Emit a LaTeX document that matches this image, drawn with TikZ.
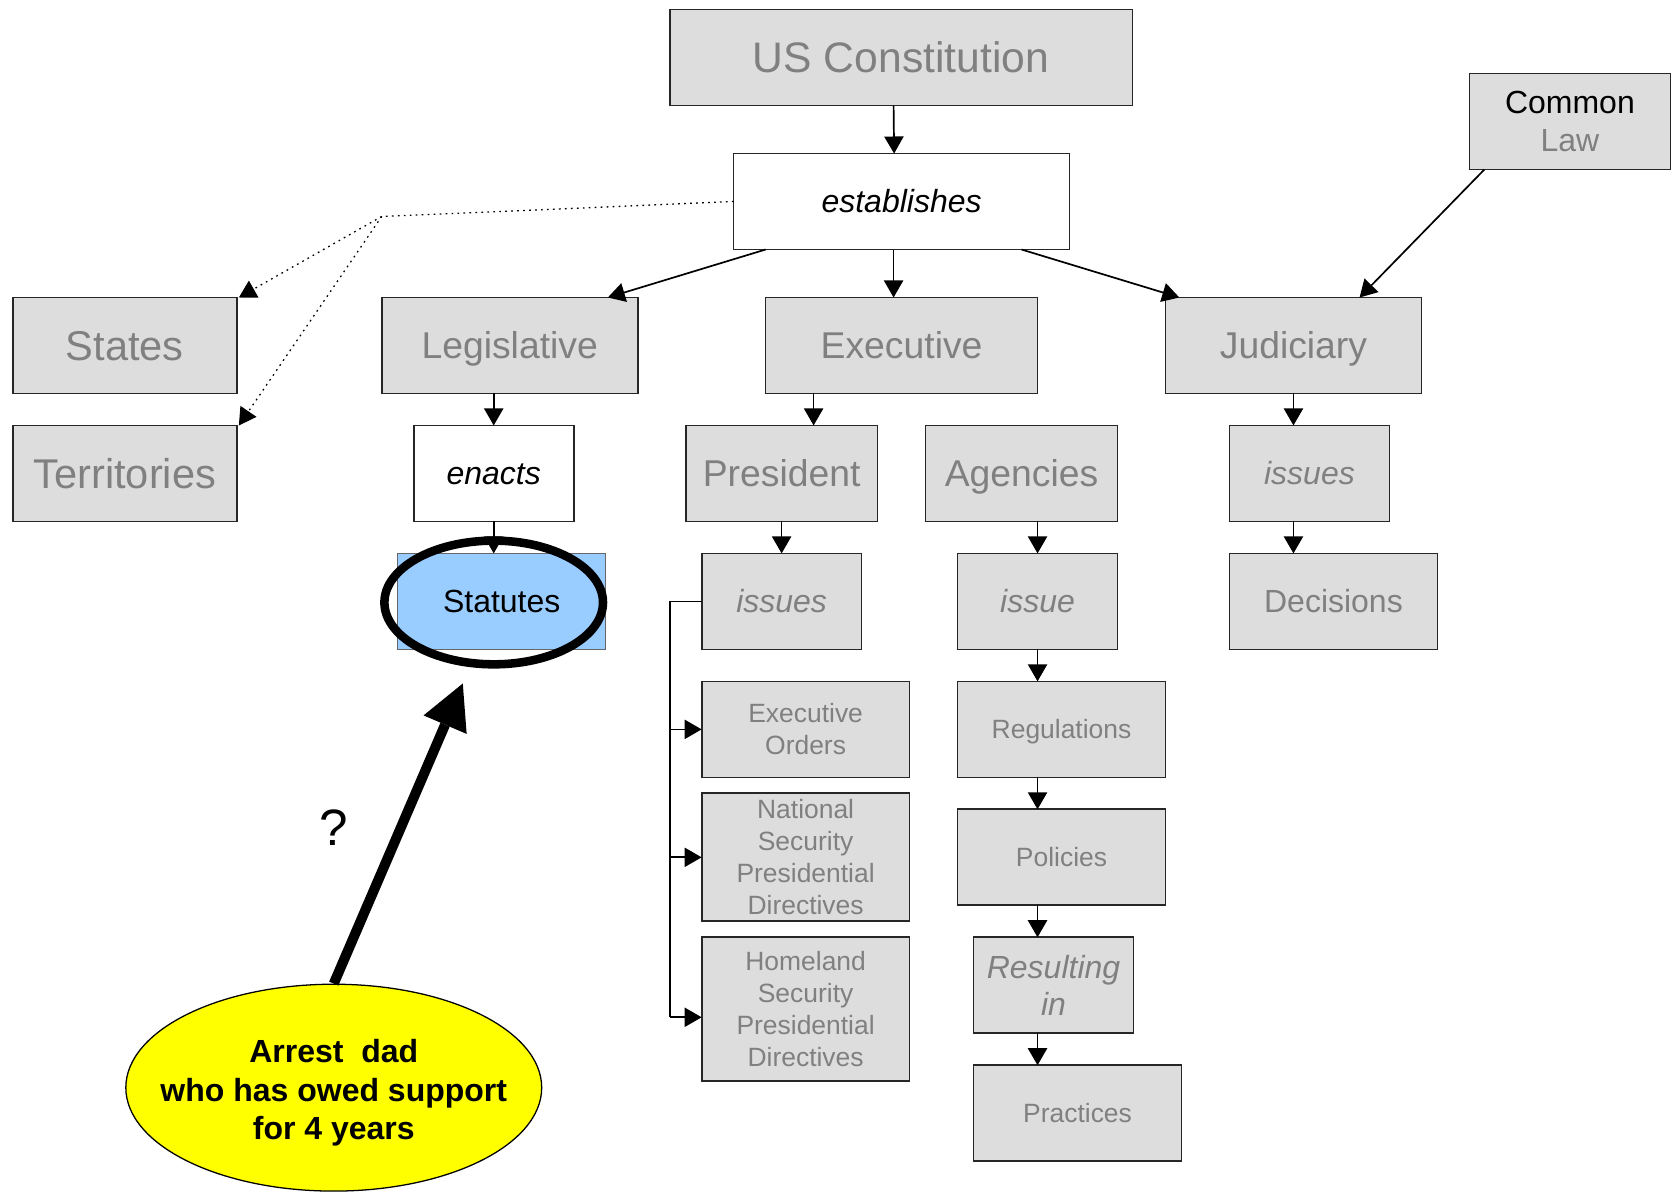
\documentclass[tikz,border=0pt]{standalone}
\usepackage{fontspec}
\setmainfont{Liberation Sans}
\usetikzlibrary{arrows.meta,shapes.geometric}
\definecolor{boxgray}{HTML}{DDDDDD}
\definecolor{txtgray}{HTML}{808080}
\definecolor{statblue}{HTML}{99CCFF}
\definecolor{noteyellow}{HTML}{FFFF00}

\begin{document}
\begin{tikzpicture}[x=0.5pt,y=-0.5pt,
  gbox/.style={draw=black!85,line width=0.8pt,fill=boxgray,text=txtgray,
    inner sep=0pt,outer sep=0pt,align=center,minimum height=45pt},
  wbox/.style={gbox,fill=white,text=black},
  % single-line styles centre the capitals in the box
  fhuge/.style={font=\fontsize{20pt}{24pt}\selectfont,text height=14.3pt,text depth=0pt},
  fstate/.style={font=\fontsize{19.5pt}{23pt}\selectfont,text height=14pt,text depth=0pt},
  fbig/.style={font=\fontsize{17.5pt}{21pt}\selectfont,text height=12.5pt,text depth=0pt},
  fmid/.style={font=\fontsize{15pt}{17.5pt}\selectfont},
  fmidone/.style={fmid,text height=10.7pt,text depth=0pt},
  fmidit/.style={font=\fontsize{15pt}{17.5pt}\selectfont\itshape},
  fmiditone/.style={fmidit,text height=10.7pt,text depth=0pt},
  fsmall/.style={font=\fontsize{12.4pt}{15pt}\selectfont},
  fsmallone/.style={fsmall,text height=8.9pt,text depth=0pt},
  arr/.style={-{Triangle[length=8pt,width=9pt]},line width=0.8pt},
  dotarr/.style={arr,dotted,line width=0.6pt},
]
\useasboundingbox (0,0) rectangle (1568,1117);

% top of the hierarchy
\node[gbox,fhuge,minimum width=217pt] (const) at (845,54) {US Constitution};
\node[wbox,fmiditone,minimum width=157.5pt] (estab) at (845.5,189) {establishes};
\node[gbox,fmid,minimum width=94.25pt] (common) at (1472.25,114) {{\color{black}Common}\\Law};

% jurisdictions and branches
\node[gbox,fstate,minimum width=105pt] (states) at (117,324) {States};
\node[gbox,fstate,minimum width=105pt] (terr) at (117,444) {Territories};
\node[gbox,fbig,minimum width=120pt] (legis) at (478,324) {Legislative};
\node[gbox,fbig,minimum width=127.5pt] (exec) at (845.5,324) {Executive};
\node[gbox,fbig,minimum width=120pt] (judic) at (1213,324) {Judiciary};

% second level
\node[wbox,fmiditone,minimum width=75pt] (enacts) at (463,444) {enacts};
\node[gbox,fbig,minimum width=90pt] (pres) at (733,444) {President};
\node[gbox,fbig,minimum width=90pt] (agen) at (958,444) {Agencies};
\node[gbox,fmiditone,minimum width=75pt] (jiss) at (1228,444) {issues};

% third level
\node[gbox,fmidone,fill=statblue,text=black,draw=black!60,line width=0.6pt,
  minimum width=97.5pt] (stat) at (470.5,564) {Statutes};
\node[gbox,fmiditone,minimum width=75pt] (piss) at (733,564) {issues};
\node[gbox,fmiditone,minimum width=75pt] (aiss) at (973,564) {issue};
\node[gbox,fmidone,minimum width=97.5pt] (dec) at (1250.5,564) {Decisions};

% executive instruments
\node[gbox,fsmall,minimum width=97.5pt] (eo) at (755.5,684) {Executive\\Orders};
\node[gbox,fsmall,minimum width=97.5pt,minimum height=60pt] (nspd) at (755.5,804)
  {National\\Security\\Presidential\\Directives};
\node[gbox,fsmall,minimum width=97.5pt,minimum height=67.5pt] (hspd) at (755.5,946.5)
  {Homeland\\Security\\Presidential\\Directives};

% agency chain
\node[gbox,fsmallone,minimum width=97.5pt] (regs) at (995.5,684) {Regulations};
\node[gbox,fsmallone,minimum width=97.5pt] (pol) at (995.5,804) {Policies};
\node[gbox,fmidit,minimum width=75pt] (res) at (988,924) {Resulting\\in};
\node[gbox,fsmallone,minimum width=97.5pt] (prac) at (1010.5,1044) {Practices};

% highlight and note
\node[draw,line width=4pt,ellipse,minimum width=102.5pt,minimum height=58pt,inner sep=0pt] (ring) at (463,565) {};
\node[ellipse,draw,line width=0.6pt,fill=noteyellow,minimum width=195pt,minimum height=97pt,
  inner sep=0pt] (need) at (313,1020) {};
\node[align=center,inner sep=0pt,font=\bfseries\fontsize{15pt}{18pt}\selectfont] (needtext) at (313,1025)
  {Arrest\ \ dad\\who has owed support\\for 4 years};
\node[font=\fontsize{24pt}{28pt}\selectfont] (q) at (313,776) {?};

\coordinate (aim) at (434,641);
\coordinate (split) at (358,203);
\coordinate (bus) at (628,564);
\coordinate (busend) at (628,954);

% connectors
\draw[arr] ([xshift=-3.5pt]const.south) -- ([xshift=-3.5pt]estab.north);
\draw[arr] ([xshift=-3.75pt]estab.south) -- ([xshift=-3.75pt]exec.north);
\draw[arr] ([xshift=15pt]estab.south west) -- ([xshift=-14pt]legis.north east);
\draw[arr] ([xshift=-22.5pt]estab.south east) -- ([xshift=6.5pt]judic.north west);
\draw[arr] ([xshift=7pt]common.south west) -- ([xshift=-29pt]judic.north east);
\draw[dotarr] (estab.west) -- (split) -- ([xshift=1pt]states.north east);
\draw[dotarr] (split) -- ([xshift=1pt]terr.north east);

\draw[arr] (enacts.north |- legis.south) -- (enacts.north);
\draw[arr] (enacts.south) -- (enacts.south |- stat.north);

\draw[arr] ([xshift=15pt]pres.north |- exec.south) -- ([xshift=15pt]pres.north);
\draw[arr] (pres.south) -- (piss.north);
\draw[line width=0.8pt] (piss.west) -- (bus) -- (busend);
\draw[arr] (bus |- eo.west) -- (eo.west);
\draw[arr] (bus |- nspd.west) -- (nspd.west);
\draw[arr] (busend) -- (busend -| hspd.west);

\draw[arr] (aiss.north |- agen.south) -- (aiss.north);
\draw[arr] (aiss.south) -- (aiss.south |- regs.north);
\draw[arr] (aiss.south |- regs.south) -- (aiss.south |- pol.north);
\draw[arr] (aiss.south |- pol.south) -- (aiss.south |- res.north);
\draw[arr] (aiss.south |- res.south) -- (aiss.south |- prac.north);

\draw[arr] (judic.south) -- (judic.south |- jiss.north);
\draw[arr] (judic.south |- jiss.south) -- (judic.south |- dec.north);

\draw[line width=4.7pt,-{Triangle[length=21pt,width=22pt,line width=0pt]}] (need.north) -- (aim);
\end{tikzpicture}
\end{document}
